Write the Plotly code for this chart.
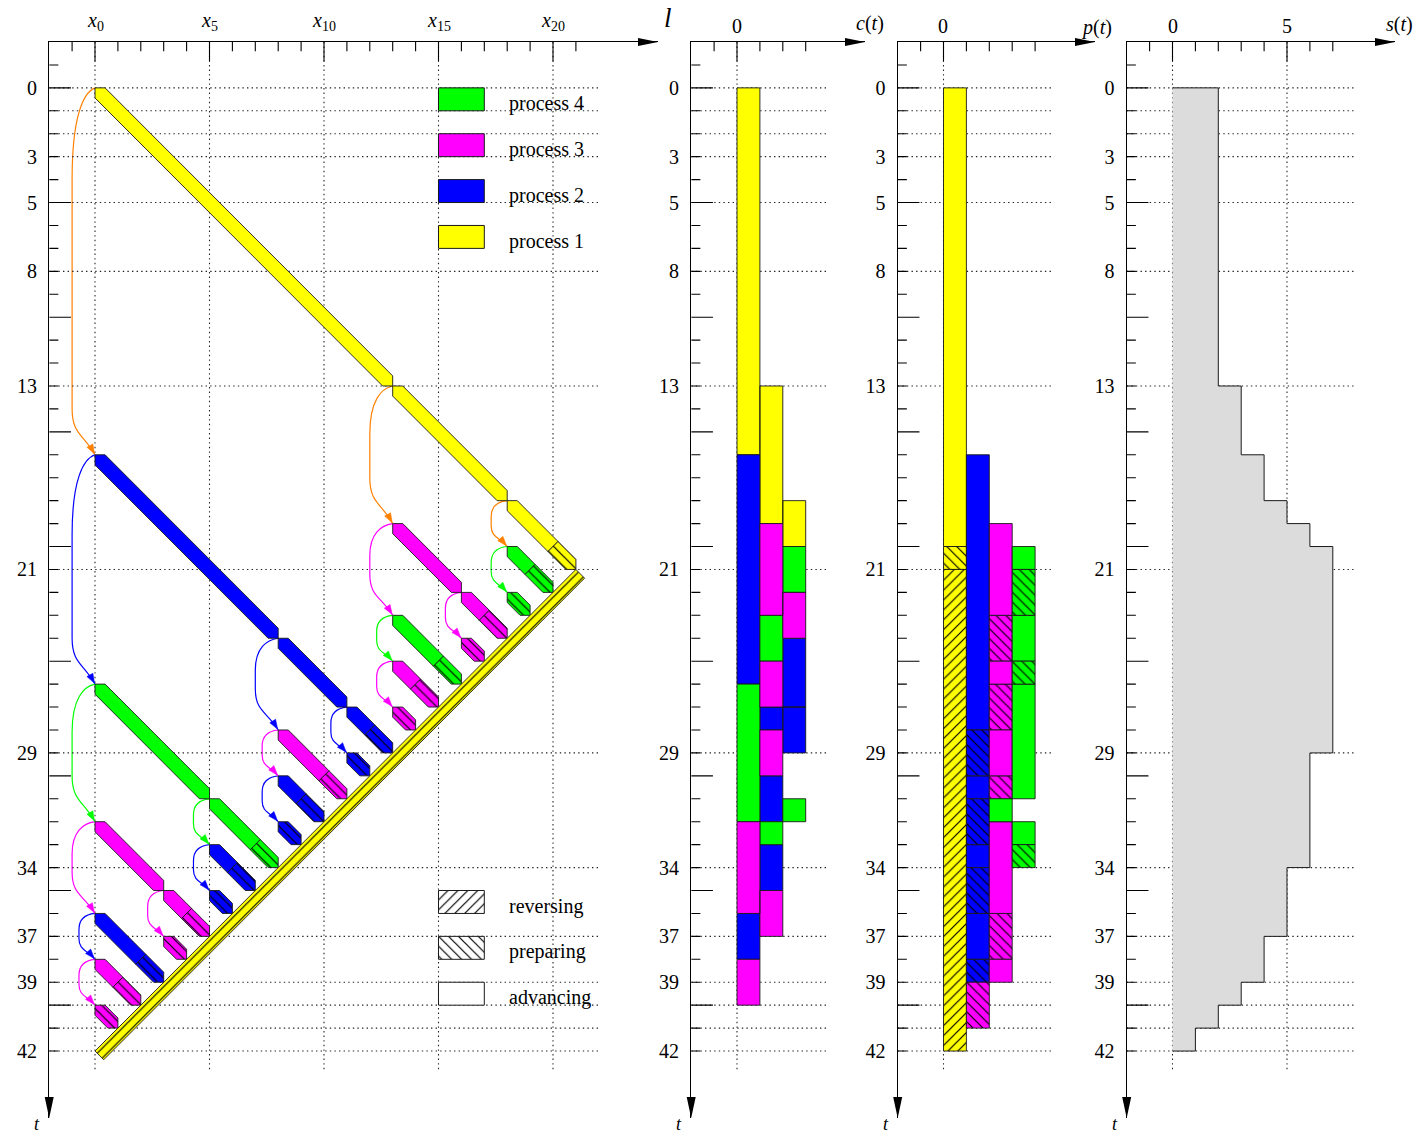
import plotly.graph_objects as go

# ======================= data =======================
proc_color = {1: '#ffff00', 2: '#0000ff', 3: '#ff00ff', 4: '#00ff00'}
arrow_color = {1: '#ff8000', 2: '#0000ff', 3: '#ff00ff', 4: '#00ff00'}

t_label_vals = [0, 3, 5, 8, 13, 21, 29, 34, 37, 39, 42]
t_grid_vals = [0, 1, 2, 3, 5, 8, 13, 21, 29, 34, 37, 39, 40, 41, 42]
x_label_vals = [0, 5, 10, 15, 20]
x_label_text = ['<i>x</i><sub>0</sub>', '<i>x</i><sub>5</sub>', '<i>x</i><sub>10</sub>',
                '<i>x</i><sub>15</sub>', '<i>x</i><sub>20</sub>']
c_label_vals = [0]
p_label_vals = [0]
s_label_vals = [0, 5]

# forward sweeps: process, start checkpoint, start time, length, trailing "preparing" steps
seg_proc = [1, 1, 1, 2, 2, 2, 2, 2, 2, 2, 2, 2, 3, 3, 3, 3, 3, 3, 3, 3, 3, 3, 3, 4, 4, 4, 4, 4]
seg_x = [0, 13, 18, 0, 8, 11, 11, 8, 8, 5, 5, 0, 13, 16, 16, 13, 13, 8, 0, 3, 3, 0, 0, 18, 18, 13, 0, 5]
seg_t = [0, 13, 18, 16, 24, 27, 29, 30, 32, 33, 35, 36, 19, 22, 24, 25, 27, 28, 32, 35, 37, 38, 40, 20, 22, 23, 26, 31]
seg_len = [13, 5, 3, 8, 3, 2, 1, 2, 1, 2, 1, 3, 3, 2, 1, 2, 1, 3, 3, 2, 1, 2, 1, 2, 1, 3, 5, 3]
seg_prep = [0, 0, 1, 0, 0, 1, 1, 1, 1, 1, 1, 1, 0, 1, 1, 1, 1, 1, 0, 1, 1, 1, 1, 1, 1, 1, 0, 1]

# reversal sweep of process 1
rev_x = 21
rev_t = 21
rev_len = 21

# restarts (curved arrows): source process, checkpoint, from time, to time
arr_src = [1, 1, 1, 2, 2, 2, 2, 2, 2, 3, 3, 3, 3, 3, 3, 3, 4, 4, 4, 4]
arr_x = [0, 13, 18, 0, 8, 11, 8, 5, 0, 13, 16, 13, 8, 0, 3, 0, 18, 13, 0, 5]
arr_t0 = [0, 13, 18, 16, 24, 27, 30, 33, 36, 19, 22, 25, 28, 32, 35, 38, 20, 23, 26, 31]
arr_t1 = [16, 19, 20, 26, 28, 29, 32, 35, 38, 23, 24, 27, 30, 36, 37, 40, 22, 25, 32, 33]

# c(t) cells
c_col = [0, 0, 0, 0, 0, 0, 1, 1, 1, 1, 1, 1, 1, 1, 1, 1, 2, 2, 2, 2, 2, 2]
c_t0 = [0, 16, 26, 32, 36, 38, 13, 19, 23, 25, 27, 28, 30, 32, 33, 35, 18, 20, 22, 24, 27, 31]
c_t1 = [16, 26, 32, 36, 38, 40, 19, 23, 25, 27, 28, 30, 32, 33, 35, 37, 20, 22, 24, 27, 29, 32]
c_proc = [1, 2, 4, 3, 2, 3, 1, 3, 4, 3, 2, 3, 2, 4, 2, 3, 1, 4, 3, 2, 2, 4]

# p(t) cells (a = advancing, p = preparing, r = reversing)
p_col = [0, 0, 0, 1, 1, 1, 1, 1, 1, 1, 1, 1, 2, 2, 2, 2, 2, 2, 2, 2, 2, 2, 3, 3, 3, 3, 3, 3, 3]
p_t0 = [0, 20, 21, 16, 28, 30, 31, 33, 34, 36, 38, 39, 19, 23, 25, 26, 28, 30, 31, 32, 36, 38, 20, 21, 23, 25, 26, 32, 33]
p_t1 = [20, 21, 42, 28, 30, 31, 33, 34, 36, 38, 39, 41, 23, 25, 26, 28, 30, 31, 32, 36, 38, 39, 21, 23, 25, 26, 31, 33, 34]
p_proc = [1, 1, 1, 2, 2, 2, 2, 2, 2, 2, 2, 3, 3, 3, 3, 3, 3, 3, 4, 3, 3, 3, 4, 4, 4, 4, 4, 4, 4]
p_state = ['a', 'p', 'r', 'a', 'p', 'a', 'p', 'a', 'p', 'a', 'p', 'p', 'a', 'p', 'a', 'p', 'a', 'p', 'a', 'a',
           'p', 'a', 'a', 'p', 'a', 'p', 'a', 'a', 'p']

# s(t) step function
s_t = [0, 13, 16, 18, 19, 20, 29, 34, 37, 39, 40, 41, 42]
s_val = [2, 3, 4, 5, 6, 7, 6, 5, 4, 3, 2, 1]

# legends
leg_proc = [4, 3, 2, 1]
leg_proc_t = [0, 2, 4, 6]
leg_state = ['r', 'p', 'a']
leg_state_t = [35, 37, 39]
leg_state_text = ['reversing', 'preparing', 'advancing']

# ======================= geometry / style =======================
FIG_W, FIG_H = 1423, 1135
M_T, M_B = 42, 17
PLOT_H = FIG_H - M_T - M_B
T_TOP, T_BOT = -2.0, 44.92
SX = 22.9
FONT = 'Liberation Serif'
W_BAND = 0.44
R_BAND = 0.38
EDGE = '#1a1a1a'
GRID = '#222222'
PATTERN = {'p': '\\', 'r': '/'}

PANELS = [
    dict(org=95.0, tip=658.0, grid_to=22.0, ticks=(-1, 21), vgrid=x_label_vals,
         tickvals=x_label_vals, ticktext=x_label_text, label_py=21),
    dict(org=737.0, tip=865.0, grid_to=4.0, ticks=(-1, 3), vgrid=c_label_vals,
         tickvals=c_label_vals, ticktext=[str(v) for v in c_label_vals], label_py=26),
    dict(org=943.5, tip=1095.0, grid_to=4.8, ticks=(-1, 4), vgrid=p_label_vals,
         tickvals=p_label_vals, ticktext=[str(v) for v in p_label_vals], label_py=26),
    dict(org=1172.5, tip=1395.0, grid_to=8.0, ticks=(-1, 7), vgrid=s_label_vals,
         tickvals=s_label_vals, ticktext=[str(v) for v in s_label_vals], label_py=26),
]


def ax_ids(i):
    return ('x', 'y') if i == 0 else ('x%d' % (i + 1), 'y%d' % (i + 1))


def ppx(px):
    return px / FIG_W


def ppy(py):
    return (FIG_H - M_B - py) / PLOT_H


fig = go.Figure()


def add_poly(xs, ys, i, fill, state=None, line_w=0.9, line_c=EDGE):
    xa, ya = ax_ids(i)
    kw = {}
    if state in PATTERN:
        kw['fillpattern'] = dict(shape=PATTERN[state], bgcolor=fill, fgcolor='#000000',
                                 size=7, solidity=0.17, fillmode='replace')
    fig.add_trace(go.Scatter(x=xs, y=ys, xaxis=xa, yaxis=ya, mode='lines', fill='toself',
                             fillcolor=fill, line=dict(color=line_c, width=line_w),
                             hoverinfo='skip', **kw))


def poly_append(store, key, pts):
    xs, ys = store.setdefault(key, ([], []))
    for (a, b) in pts + [pts[0]]:
        xs.append(a)
        ys.append(b)
    xs.append(None)
    ys.append(None)


# ---------- grid (dotted) ----------
for i, pan in enumerate(PANELS):
    gx, gy = [], []
    for t in t_grid_vals:
        gx += [-2, pan['grid_to'], None]
        gy += [t, t, None]
    for v in pan['vgrid']:
        gx += [v, v, None]
        gy += [T_TOP, 42.9, None]
    xa, ya = ax_ids(i)
    fig.add_trace(go.Scatter(x=gx, y=gy, xaxis=xa, yaxis=ya, mode='lines',
                             line=dict(color=GRID, width=1.1, dash='1.4px,3.2px'), hoverinfo='skip'))

# ---------- s(t) panel ----------
sx, sy = [0], [s_t[0]]
for k, v in enumerate(s_val):
    sx += [v, v]
    sy += [s_t[k], s_t[k + 1]]
sx += [0]
sy += [s_t[-1]]
fig.add_trace(go.Scatter(x=sx, y=sy, xaxis='x4', yaxis='y4', mode='lines', fill='toself',
                         fillcolor='#dcdcdc', line=dict(width=0), hoverinfo='skip'))
fig.add_trace(go.Scatter(x=sx, y=sy, xaxis='x4', yaxis='y4', mode='lines',
                         line=dict(color=EDGE, width=1), hoverinfo='skip'))

# ---------- c(t) panel ----------
store = {}
for k in range(len(c_col)):
    c0, t0, t1 = c_col[k], c_t0[k], c_t1[k]
    poly_append(store, (c_proc[k], 'a'), [(c0, t0), (c0 + 1, t0), (c0 + 1, t1), (c0, t1)])
for (pr, st), (xs, ys) in store.items():
    add_poly(xs, ys, 1, proc_color[pr], st)

# ---------- p(t) panel ----------
store = {}
for k in range(len(p_col)):
    c0, t0, t1 = p_col[k], p_t0[k], p_t1[k]
    poly_append(store, (p_proc[k], p_state[k]), [(c0, t0), (c0 + 1, t0), (c0 + 1, t1), (c0, t1)])
for (pr, st), (xs, ys) in store.items():
    add_poly(xs, ys, 2, proc_color[pr], st)

# ---------- main panel: sweeps ----------
store = {}
w = W_BAND
for k in range(len(seg_proc)):
    xs0, ts0, L, pp = seg_x[k], seg_t[k], seg_len[k], seg_prep[k]
    a = L - pp
    xe, te = xs0 + L, ts0 + L
    if pp == 0 or a == 0:
        hexa = [(xs0, ts0), (xs0 + w, ts0), (xe, te - w), (xe, te), (xe - w, te), (xs0, ts0 + w)]
        poly_append(store, (seg_proc[k], 'a' if pp == 0 else 'p'), hexa)
    else:
        xk, tk = xs0 + a, ts0 + a
        poly_append(store, (seg_proc[k], 'a'),
                    [(xs0, ts0), (xs0 + w, ts0), (xk + w / 2, tk - w / 2), (xk - w / 2, tk + w / 2),
                     (xs0, ts0 + w)])
        poly_append(store, (seg_proc[k], 'p'),
                    [(xk + w / 2, tk - w / 2), (xe, te - w), (xe, te), (xe - w, te),
                     (xk - w / 2, tk + w / 2)])
r = R_BAND
poly_append(store, (1, 'r'), [(rev_x - rev_len, rev_t + rev_len), (rev_x, rev_t),
                              (rev_x + r, rev_t + r), (rev_x - rev_len + r, rev_t + rev_len + r)])
for (pr, st), (xs, ys) in store.items():
    add_poly(xs, ys, 0, proc_color[pr], st)

# ---------- tick marks ----------
for i, pan in enumerate(PANELS):
    tx, ty = [], []
    for t in range(-1, 43):
        ln = 0.95 if t % 5 == 0 else 0.4
        tx += [-2, -2 + ln, None]
        ty += [t, t, None]
    for v in range(pan['ticks'][0], pan['ticks'][1] + 1):
        ln = 0.85 if v % 5 == 0 else 0.4
        tx += [v, v, None]
        ty += [T_TOP, T_TOP + ln, None]
    xa, ya = ax_ids(i)
    fig.add_trace(go.Scatter(x=tx, y=ty, xaxis=xa, yaxis=ya, mode='lines',
                             line=dict(color='#000000', width=1.1), hoverinfo='skip'))

# ---------- legends ----------
annotations = []
for k, pr in enumerate(leg_proc):
    t0 = leg_proc_t[k]
    add_poly([15, 17, 17, 15, 15], [t0, t0, t0 + 1, t0 + 1, t0], 0, proc_color[pr], None, 1.0)
    annotations.append(dict(x=18, y=t0 + 0.68, xref='x', yref='y', text='process %d' % pr,
                            showarrow=False, xanchor='left', yanchor='middle',
                            font=dict(family=FONT, size=20, color='#000')))
for k, st in enumerate(leg_state):
    t0 = leg_state_t[k]
    add_poly([15, 17, 17, 15, 15], [t0, t0, t0 + 1, t0 + 1, t0], 0, '#ffffff', st, 1.0)
    annotations.append(dict(x=18, y=t0 + 0.68, xref='x', yref='y', text=leg_state_text[k],
                            showarrow=False, xanchor='left', yanchor='middle',
                            font=dict(family=FONT, size=20, color='#000')))

# ---------- top tick labels (positioned by the x scales) ----------
for i, pan in enumerate(PANELS):
    xa, _ = ax_ids(i)
    for v, txt in zip(pan['tickvals'], pan['ticktext']):
        annotations.append(dict(x=v, y=ppy(pan['label_py']), xref=xa, yref='paper', text=txt,
                                showarrow=False, xanchor='center', yanchor='middle',
                                font=dict(family=FONT, size=20, color='#000')))

# ---------- curved restart arrows ----------
shapes = []
for k in range(len(arr_x)):
    x, t1, t2 = arr_x[k], arr_t0[k], arr_t1[k]
    dt = t2 - t1
    d = min(1.0, 0.35 * dt)
    h_out = min(0.35 * dt, 4.0)
    h_in = min(0.45 * dt, 2.0)
    col = arrow_color[arr_src[k]]
    path = ('M %.3f,%.3f C %.3f,%.3f %.3f,%.3f %.3f,%.3f L %.3f,%.3f C %.3f,%.3f %.3f,%.3f %.3f,%.3f' % (
        x, t1, x - 0.5 * d, t1 + 0.05 * h_out, x - d, t1 + 0.3 * h_out, x - d, t1 + h_out,
        x - d, t2 - h_in, x - d, t2 - 0.45 * h_in, x - 0.5 * d, t2 - 0.45 * h_in, x, t2))
    shapes.append(dict(type='path', path=path, xref='x', yref='y', layer='below',
                       line=dict(color=col, width=1.2)))
    ux, uy = 0.5 * d, 0.45 * h_in
    nrm = (ux ** 2 + uy ** 2) ** 0.5
    ux, uy = ux / nrm, uy / nrm
    tipx, tipy = x - 0.04 * ux, t2 - 0.04 * uy
    bx, by = tipx - 0.42 * ux, tipy - 0.42 * uy
    hw = 0.15
    head = 'M %.3f,%.3f L %.3f,%.3f L %.3f,%.3f Z' % (
        tipx, tipy, bx - hw * uy, by + hw * ux, bx + hw * uy, by - hw * ux)
    shapes.append(dict(type='path', path=head, xref='x', yref='y', layer='above',
                       fillcolor=col, line=dict(color=col, width=0.5)))

# ---------- axis arrowheads (paper coords) ----------
top_py = M_T
bot_py = FIG_H - M_B
for pan in PANELS:
    tip = pan['tip']
    shapes.append(dict(type='path', xref='paper', yref='paper', fillcolor='#000', line=dict(width=0),
                       path='M %.5f,%.5f L %.5f,%.5f L %.5f,%.5f Z' % (
                           ppx(tip), ppy(top_py), ppx(tip - 20), ppy(top_py - 4), ppx(tip - 20), ppy(top_py + 4))))
    lx = pan['org'] - 2 * SX
    shapes.append(dict(type='path', xref='paper', yref='paper', fillcolor='#000', line=dict(width=0),
                       path='M %.5f,%.5f L %.5f,%.5f L %.5f,%.5f Z' % (
                           ppx(lx), ppy(bot_py), ppx(lx - 4.5), ppy(bot_py - 21), ppx(lx + 4.5), ppy(bot_py - 21))))

# ---------- axis titles ----------
titles = [('<i>l</i>', 668, 18, 27), ('<i>c</i>(<i>t</i>)', 870, 23, 20),
          ('<i>p</i>(<i>t</i>)', 1096, 28, 20), ('<i>s</i>(<i>t</i>)', 1399, 24, 20)]
for txt, px, py, fs in titles:
    annotations.append(dict(x=ppx(px), y=ppy(py), xref='paper', yref='paper', text=txt, showarrow=False,
                            xanchor='center', yanchor='middle', font=dict(family=FONT, size=fs, color='#000')))
for pan in PANELS:
    lx = pan['org'] - 2 * SX
    annotations.append(dict(x=ppx(lx - 12), y=ppy(1124), xref='paper', yref='paper', text='<i>t</i>',
                            showarrow=False, xanchor='center', yanchor='middle',
                            font=dict(family=FONT, size=18, color='#000')))

# ---------- layout ----------
layout = dict(width=FIG_W, height=FIG_H, margin=dict(l=0, r=0, t=M_T, b=M_B),
              paper_bgcolor='white', plot_bgcolor='rgba(0,0,0,0)', showlegend=False,
              shapes=shapes, annotations=annotations)
for i, pan in enumerate(PANELS):
    left_px = pan['org'] - 2 * SX
    xmax = (pan['tip'] - pan['org']) / SX
    xa, ya = ax_ids(i)
    xkey = 'xaxis' if i == 0 else 'xaxis%d' % (i + 1)
    ykey = 'yaxis' if i == 0 else 'yaxis%d' % (i + 1)
    layout[xkey] = dict(domain=[ppx(left_px), ppx(pan['tip'])], range=[-2, xmax], anchor=ya, side='top',
                        showline=True, linecolor='#000', linewidth=1.3, ticks='', showgrid=False,
                        zeroline=False, showticklabels=False, fixedrange=True)
    layout[ykey] = dict(domain=[0, 1], range=[T_BOT, T_TOP], anchor=xa, showline=True, linecolor='#000',
                        linewidth=1.3, ticks='', showgrid=False, zeroline=False, tickmode='array',
                        tickvals=t_label_vals, ticktext=[str(v) for v in t_label_vals],
                        tickfont=dict(family=FONT, size=20, color='#000'), ticklabelstandoff=7,
                        fixedrange=True)
fig.update_layout(**layout)
fig.write_html('out.html', config={'displayModeBar': False},
               post_script="document.body.style.margin='0px';document.body.style.padding='0px';")
